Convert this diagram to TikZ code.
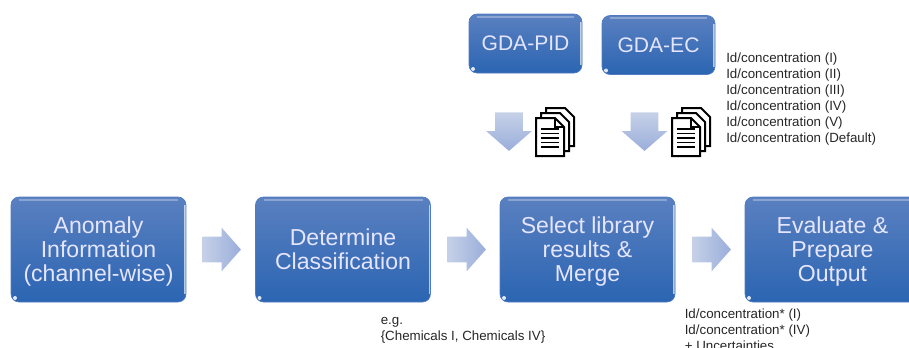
\documentclass[tikz,border=0pt]{standalone}
\usepackage{fontspec}
\setmainfont{Liberation Sans}
\usetikzlibrary{shapes.arrows}
\definecolor{boxtop}{HTML}{5A80C0}
\definecolor{boxbot}{HTML}{2B65B2}
\definecolor{boxedge}{HTML}{4F7CC0}
\definecolor{arrowlight}{HTML}{C6D1E8}
\definecolor{arrowdark}{HTML}{9AAEDA}
\definecolor{notetext}{HTML}{262626}
\newcommand{\toppad}{\rule{0pt}{15.5pt}}
\tikzset{
  docstack/.pic={
    \foreach \i in {2,1,0} {
      \fill[white,draw=black,line width=1.5pt,line join=miter]
        (5*\i,-5*\i) -- ++(0,38) -- ++(28,0) -- ++(0,-29) -- ++(-9,-9) -- cycle;
    }
    \draw[black,line width=1.1pt] (19,0) -- ++(0,9) -- ++(9,0);
    \foreach \j in {11,15.5,20,24.5,29} {
      \draw[black,line width=1.1pt] (5,\j) -- (23,\j);
    }
  }
}
\begin{document}
\begin{tikzpicture}[x=0.75pt,y=-0.75pt]
\tikzstyle{bluebox}=[rectangle,rounded corners=6pt,draw=boxedge,line width=0.5pt,top color=boxtop,bottom color=boxbot,text=white!90!blue,align=center,
  path picture={
    \draw[white,opacity=0.3,line width=1.5pt] ([xshift=6pt,yshift=-2.2pt]path picture bounding box.north west) -- ([xshift=-6pt,yshift=-2.2pt]path picture bounding box.north east);
    \draw[white,opacity=0.65,line width=1.6pt] ([xshift=-0.5pt,yshift=-6pt]path picture bounding box.north east) -- ([xshift=-0.5pt,yshift=6pt]path picture bounding box.south east);
    \fill[white,opacity=0.85] ([xshift=3pt,yshift=3pt]path picture bounding box.south west) circle (1.5pt);
  }]
\tikzstyle{mainbox}=[bluebox,minimum width=131.25pt,minimum height=78.75pt,font=\fontsize{17.3}{18}\selectfont]
\tikzstyle{gdabox}=[bluebox,minimum width=84.75pt,minimum height=44.25pt,font=\fontsize{15.8}{18}\selectfont]
\tikzstyle{blockarrow}=[single arrow,anchor=tail,inner sep=0pt,text depth=0pt,single arrow head extend=6.75pt,single arrow head indent=0pt,minimum height=29pt]
\tikzstyle{rightarrow}=[blockarrow,text height=18.75pt,single arrow tip angle=97,left color=arrowlight,right color=arrowdark]
\tikzstyle{downarrow}=[blockarrow,text height=0pt,text width=20.5pt,single arrow tip angle=98,shape border rotate=270,top color=arrowlight,bottom color=arrowdark]
\tikzstyle{note}=[inner sep=0pt,anchor=north west,align=left,text=notetext,font=\fontsize{10}{12}\selectfont]
\useasboundingbox (0,0) rectangle (909,347);
\clip (0,0) rectangle (909,347);
% main row
\node [mainbox] (anomaly) at (98.5,249.5) {\toppad Anomaly\\Information\\(channel-wise)};
\node [mainbox] (classify) at (343,249.5) {Determine\\Classification};
\node [mainbox] (merge) at (587.5,249.5) {\toppad Select library\\results \&\\Merge};
\node [mainbox] (output) at (832.5,249.5) {\toppad Evaluate \&\\Prepare\\Output};
\node [rightarrow] (arrowa) at (202,249.5) {};
\node [rightarrow] (arrowb) at (447,249.5) {};
\node [rightarrow] (arrowc) at (692,249.5) {};
% top row
\node [gdabox] (pid) at (525.5,43.5) {GDA-PID};
\node [gdabox] (ec) at (658.5,45) {GDA-EC};
\node [downarrow] (arrowpid) at (509,112) {};
\node [downarrow] (arrowec) at (644.5,112) {};
\pic at (536,118) {docstack};
\pic at (672,118) {docstack};
% notes
\node [note] (ecnote) at (726,52.5) {Id/concentration (I)\\Id/concentration (II)\\Id/concentration (III)\\Id/concentration (IV)\\Id/concentration (V)\\Id/concentration (Default)};
\node [note] (classnote) at (380.5,317.5) {e.g.\\\{Chemicals I, Chemicals IV\}};
\node [note] (outnote) at (684.5,308.5) {Id/concentration* (I)\\Id/concentration* (IV)\\+ Uncertainties};
\end{tikzpicture}
\end{document}
